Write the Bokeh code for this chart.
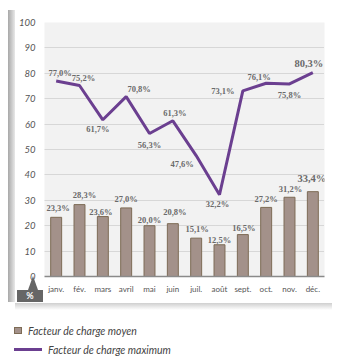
from bokeh.plotting import figure
from bokeh.layouts import column
from bokeh.models import (ColumnDataSource, LabelSet, FixedTicker, Range1d,
                          FactorRange, Div)
from bokeh.embed import file_html
from bokeh.resources import INLINE

months = ["janv.", "fév.", "mars", "avril", "mai", "juin", "juil.", "août",
          "sept.", "oct.", "nov.", "déc."]
moyen = [23.3, 28.3, 23.6, 27.0, 20.0, 20.8, 15.1, 12.5, 16.5, 27.2, 31.2, 33.4]
maximum = [77.0, 75.2, 61.7, 70.8, 56.3, 61.3, 47.6, 32.2, 73.1, 76.1, 75.8, 80.3]
y_ticks = [0, 10, 20, 30, 40, 50, 60, 70, 80, 90, 100]
legend_labels = ["Facteur de charge moyen", "Facteur de charge maximum"]
unit_label = "%"

# label placement (screen px offsets), styling only
max_dx = [4, 4, -5, 13, 0, 2, -14, -2, -20, -7, 0, -4]
max_dy = [8, 7, -9, 8, -12, 8, -8, -9, 0, 6, -11, 9]
moy_dx = [2, 5, -2, 0, 0, 2, 1, 0, 1, 0, 1, -1]
moy_dy = [9, 10, 5, 9, 6, 12, 9, 5, 7, 8, 8, 13]
sizes = ["8.5px"] * 11 + ["10.5px"]

BAR_FILL, BAR_LINE, LINE_COL = "#a3918a", "#7d6b55", "#6b3f90"
FONT = "Lato"
PLOT_H = 296
FRAME_BOTTOM = 277


def fmt(v):
    return f"{v:.1f}".replace(".", ",") + "%"


src = ColumnDataSource(dict(
    m=months, moyen=moyen, maximum=maximum,
    lab_moy=[fmt(v) for v in moyen], lab_max=[fmt(v) for v in maximum],
    max_dx=max_dx, max_dy=max_dy, moy_dx=moy_dx, moy_dy=moy_dy, size=sizes,
))

p = figure(x_range=FactorRange(*months), y_range=Range1d(0, 100),
           width=340, height=PLOT_H, output_backend="svg", toolbar_location=None,
           min_border_left=44, min_border_right=16, min_border_top=22,
           min_border_bottom=PLOT_H - FRAME_BOTTOM)
p.outline_line_color = None
p.background_fill_color = "#f2f2f2"
p.border_fill_color = "white"

p.xgrid.grid_line_color = None
p.ygrid.grid_line_color = "#bdbdbd"
p.ygrid.grid_line_dash = "1 1"
p.ygrid.ticker = FixedTicker(ticks=y_ticks)

p.yaxis.ticker = FixedTicker(ticks=y_ticks)
p.yaxis.axis_line_color = None
p.yaxis.major_tick_line_color = None
p.yaxis.minor_tick_line_color = None
p.yaxis.major_label_standoff = 3
p.yaxis.major_label_text_font = FONT
p.yaxis.major_label_text_font_style = "italic"
p.yaxis.major_label_text_font_size = "9.5px"
p.yaxis.major_label_text_color = "#555555"

p.xaxis.axis_line_color = "#8a8a8a"
p.xaxis.axis_line_width = 1.5
p.xaxis.major_tick_line_color = None
p.xaxis.major_label_standoff = 1
p.xaxis.major_label_text_font = FONT
p.xaxis.major_label_text_font_size = "8px"
p.xaxis.major_label_text_color = "#555555"

p.vbar(x="m", top="moyen", width=0.47, source=src,
       fill_color=BAR_FILL, line_color=BAR_LINE, line_width=1)
p.line(x="m", y="maximum", source=src, line_color=LINE_COL, line_width=3)

p.add_layout(LabelSet(x="m", y="moyen", text="lab_moy", source=src,
                      x_offset="moy_dx", y_offset="moy_dy",
                      text_align="center", text_baseline="middle",
                      text_font=FONT, text_font_style="bold",
                      text_font_size="size", text_color="#6a6a6a"))
p.add_layout(LabelSet(x="m", y="maximum", text="lab_max", source=src,
                      x_offset="max_dx", y_offset="max_dy",
                      text_align="center", text_baseline="middle",
                      text_font=FONT, text_font_style="bold",
                      text_font_size="size", text_color="#6a6a6a"))


def at(left, top, w, h, extra=""):
    # absolute box, top given in page pixels
    return (f"position:absolute;left:{left}px;top:{top - PLOT_H}px;"
            f"width:{w}px;height:{h}px;{extra}")


txt = f"font-family:{FONT};font-style:italic;font-size:10.5px;color:#444;line-height:14px;white-space:nowrap;"
html = (
    f'<div style="position:relative;width:340px;height:{362 - PLOT_H}px;overflow:visible;">'
    # frame shadows
    f'<div style="{at(8, 10, 7, 292, "background:linear-gradient(to right,#a8a8a8,#e8e8e8);")}"></div>'
    f'<div style="{at(15, 303, 317, 7, "background:linear-gradient(#cfcfcf,#ffffff);")}"></div>'
    # unit badge
    f'<div style="{at(28, 276, 0, 0, "border-left:5px solid transparent;border-right:5px solid transparent;border-bottom:14px solid #666;")}"></div>'
    f'<div style="{at(17, 290, 26, 12, "background:#666;color:#fff;font-family:Lato;font-weight:bold;font-size:9px;line-height:12px;text-align:center;")}">{unit_label}</div>'
    # legend
    f'<div style="{at(14, 327, 8, 7, f"background:{BAR_FILL};border:1px solid {BAR_LINE};")}"></div>'
    f'<div style="{at(28, 324, 200, 14, txt)}">{legend_labels[0]}</div>'
    f'<div style="{at(14, 348, 28, 3, f"background:{LINE_COL};")}"></div>'
    f'<div style="{at(48, 343, 200, 14, txt)}">{legend_labels[1]}</div>'
    '</div>'
)
legend_div = Div(text=html, width=340, height=362 - PLOT_H, margin=0,
                 styles={"overflow": "visible"})

open("out.html", "w").write(file_html(column(p, legend_div, spacing=0), INLINE))
